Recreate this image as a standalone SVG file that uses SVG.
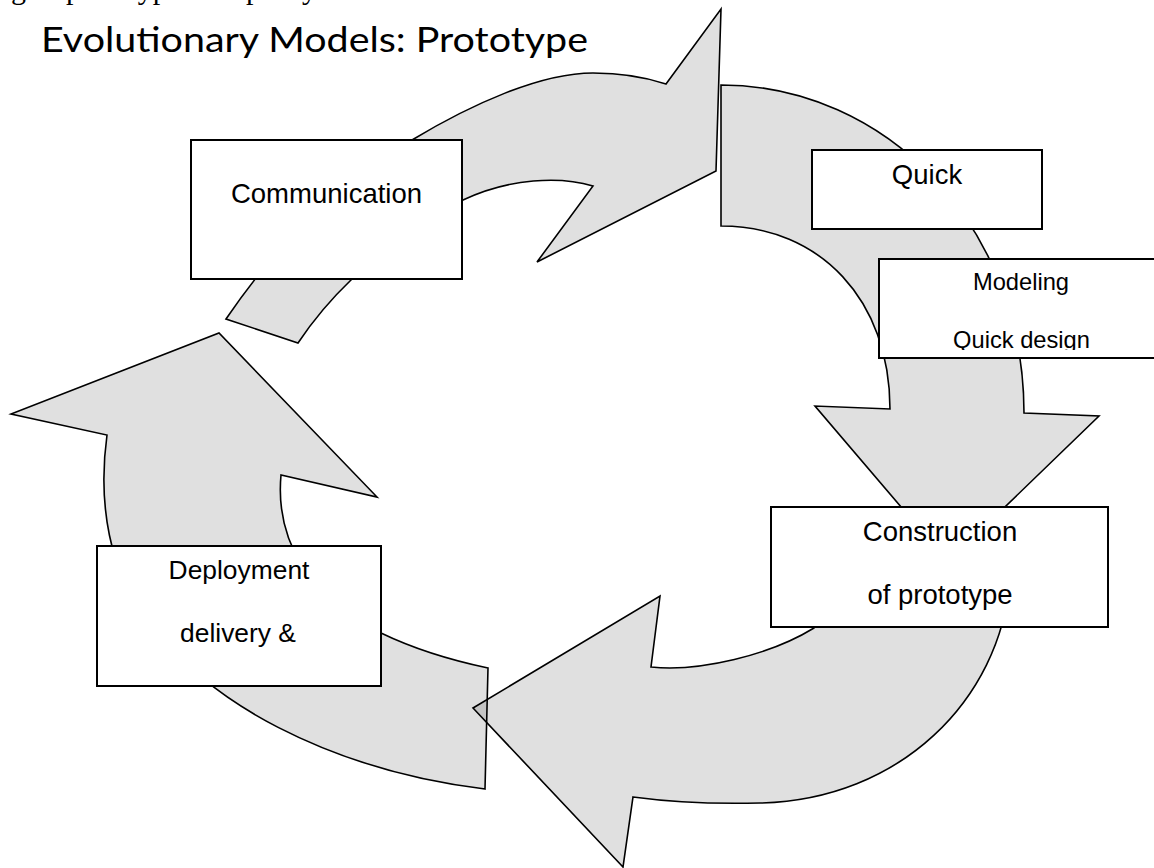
<svg xmlns="http://www.w3.org/2000/svg" width="1154" height="868" viewBox="0 0 1154 868">
<style>
.arrow{fill:#000;fill-opacity:0.12;stroke:#000;stroke-width:1.6;stroke-linejoin:miter}
.box{fill:#fff;stroke:#000;stroke-width:2}
.lbl{font-family:"Liberation Sans",Arial,sans-serif;fill:#000;text-anchor:middle}
.title{font-family:Lato,"Open Sans",sans-serif;font-size:35px;fill:#000}
.cut{font-family:"Liberation Serif","Times New Roman",serif;font-size:30px;fill:#000}
</style>
<defs>
<clipPath id="qdClip"><rect x="879" y="259" width="280" height="91"/></clipPath>
</defs>
<rect width="1154" height="868" fill="#fff"/>
<text class="cut" y="-1"><tspan x="11">g</tspan><tspan x="66">prototype</tspan><tspan x="246">p</tspan><tspan x="302">y</tspan></text>
<text class="title" x="41" y="52" textLength="547" lengthAdjust="spacingAndGlyphs">Evolutionary Models: Prototype</text>
<g id="connectors">
<path class="arrow" d="M226,319 C280,240 340,180 412,140 C470,105 540,73 593,73 C625,73 648,78 666,84 L721,9 L716,171 L537,262 L593,186 C560,176 510,178 463,200 C420,220 380,250 352,279 C330,300 312,322 298,343 Z"/>
<path class="arrow" d="M721,85 C885,85 1024,225 1024,413 L1099,416 L948,562 L815,406 L890,409 C890,300 820,226 721,226 Z"/>
<path class="arrow" d="M1010,580 C1000,700 900,800 760,803 C720,804 670,802 633,797 L623,867 L473,708 L660,596 L651,667 C700,672 770,655 814,628 C830,615 840,600 840,590 Z"/>
<path class="arrow" d="M485,789 C330,770 200,700 150,620 C108,575 98,500 107,435 L11,414 L219,333 L377,497 L281,475 C275,540 310,600 381,633 C410,647 450,660 488,668 Z"/>
</g>
<g id="communication">
<rect class="box" x="191" y="140" width="271" height="139"/>
<text class="lbl" x="326.5" y="203" font-size="27.5">Communication</text>
</g>
<g id="quick">
<rect class="box" x="812" y="150" width="230" height="79"/>
<text class="lbl" x="927" y="184" font-size="27.5">Quick</text>
</g>
<g id="modeling">
<rect class="box" x="879" y="259" width="290" height="99"/>
<text class="lbl" x="1021" y="290" font-size="23.7">Modeling</text>
<text class="lbl" x="1021.5" y="348" font-size="23.7" clip-path="url(#qdClip)">Quick design</text>
</g>
<g id="construction">
<rect class="box" x="771" y="507" width="337" height="120"/>
<text class="lbl" x="940" y="541" font-size="27.5">Construction</text>
<text class="lbl" x="940" y="604" font-size="27.5">of prototype</text>
</g>
<g id="deployment">
<rect class="box" x="97" y="546" width="284" height="140"/>
<text class="lbl" x="239" y="579" font-size="26.4">Deployment</text>
<text class="lbl" x="238" y="642" font-size="26.4">delivery &amp;</text>
</g>
</svg>
